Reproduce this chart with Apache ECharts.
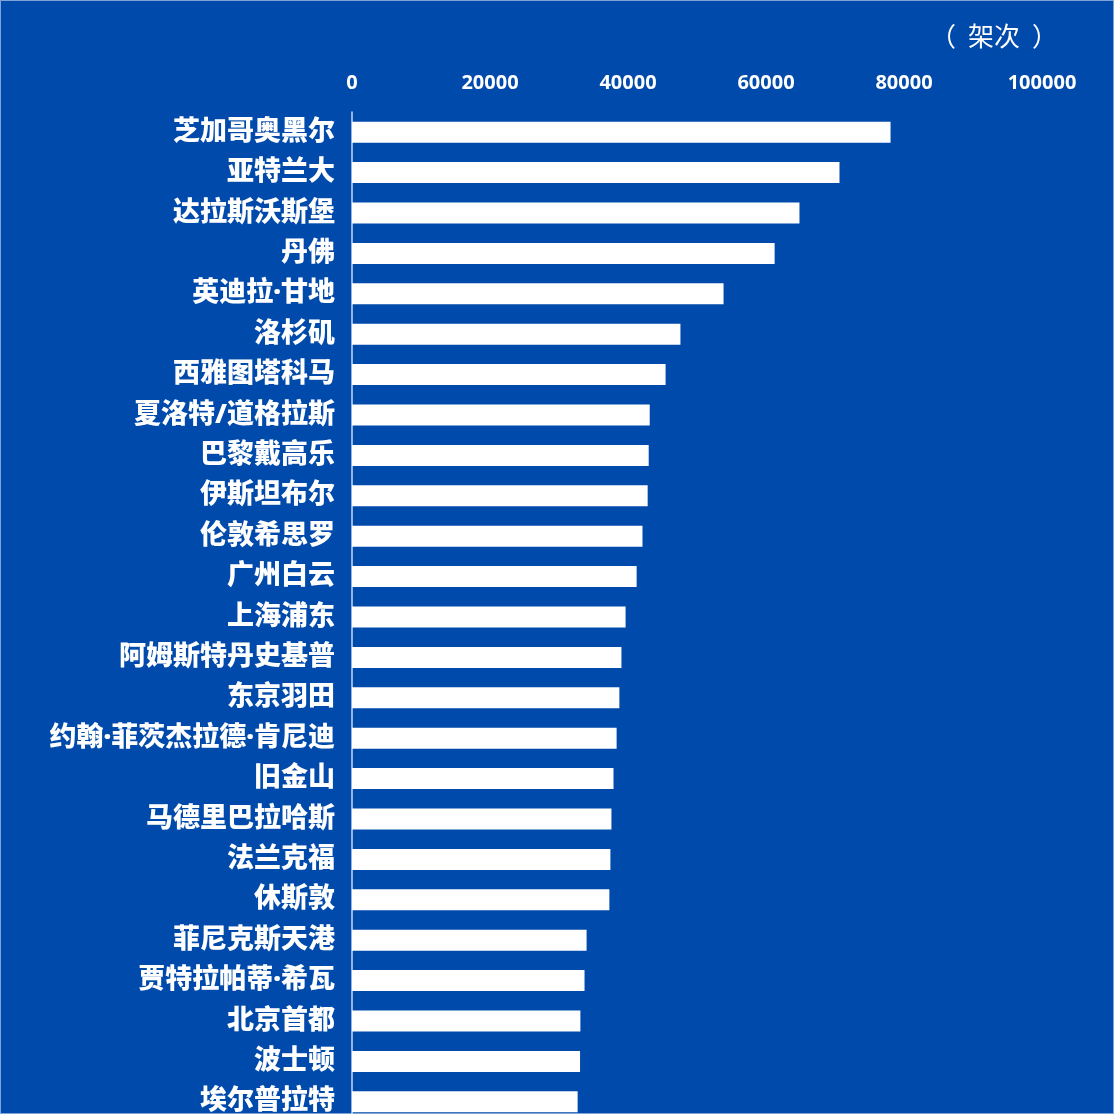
<!DOCTYPE html>
<html>
<head>
<meta charset="utf-8">
<script src="https://cdn.jsdelivr.net/npm/echarts@6/dist/echarts.min.js"></script>
<style>
  html, body { margin: 0; padding: 0; background: #004AAB; }
  #chart { width: 1114px; height: 1114px; }
</style>
</head>
<body>
<div id="chart"></div>
<script>
var categories = [
  '芝加哥奥黑尔', '亚特兰大', '达拉斯沃斯堡', '丹佛', '英迪拉·甘地',
  '洛杉矶', '西雅图塔科马', '夏洛特/道格拉斯', '巴黎戴高乐', '伊斯坦布尔',
  '伦敦希思罗', '广州白云', '上海浦东', '阿姆斯特丹史基普', '东京羽田',
  '约翰·菲茨杰拉德·肯尼迪', '旧金山', '马德里巴拉哈斯', '法兰克福', '休斯敦',
  '菲尼克斯天港', '贾特拉帕蒂·希瓦', '北京首都', '波士顿', '埃尔普拉特'
];
var flights = [
  78050, 70650, 64850, 61250, 53850,
  47600, 45450, 43150, 43000, 42850,
  42100, 41250, 39650, 39050, 38750,
  38350, 37900, 37600, 37450, 37300,
  34000, 33700, 33100, 33050, 32700
];
var xTicks = { min: 0, max: 100000, interval: 20000 };
var unitOpen = '（', unitWord = '架次', unitClose = '）';

var chart = echarts.init(document.getElementById('chart'));
var font = '"Noto Sans", "Noto Sans CJK SC", sans-serif';
var unitFont = '"Noto Sans CJK SC", serif';
chart.setOption({
  backgroundColor: '#004AAB',
  animation: false,
  grid: {
    left: 352, top: 112, width: 690, height: 1010,
    containLabel: false,
    outerBoundsMode: 'none'
  },
  xAxis: {
    type: 'value',
    position: 'top',
    min: xTicks.min,
    max: xTicks.max,
    interval: xTicks.interval,
    axisLine: { show: false },
    axisTick: { show: false },
    splitLine: { show: false },
    axisLabel: {
      color: '#ffffff',
      fontSize: 20,
      fontWeight: 'bold',
      fontFamily: font,
      margin: 19,
      formatter: function (v) { return String(v); }
    }
  },
  yAxis: {
    type: 'category',
    data: categories,
    inverse: true,
    axisLine: { show: true, lineStyle: { color: '#c9d8ef', width: 1.5 } },
    axisTick: { show: false },
    splitLine: { show: false },
    axisLabel: {
      color: '#ffffff',
      fontSize: 27,
      fontWeight: 900,
      fontFamily: font,
      margin: 17
    }
  },
  series: [{
    type: 'bar',
    data: flights,
    barWidth: 21,
    itemStyle: { color: '#ffffff' },
    silent: true
  }],
  graphic: [
    {
      type: 'text',
      x: 994,
      y: 36,
      style: {
        text: '{p|' + unitOpen + '}{w|' + unitWord + '}{p|' + unitClose + '}',
        fill: '#ffffff',
        fontSize: 26,
        fontFamily: unitFont,
        align: 'center',
        verticalAlign: 'middle',
        rich: {
          p: { fill: '#ffffff', fontSize: 26, fontFamily: unitFont },
          w: { fill: '#ffffff', fontSize: 26, fontFamily: unitFont, padding: [0, 12, 0, 12] }
        }
      }
    },
    {
      type: 'rect',
      shape: { x: 0, y: 0, width: 1114, height: 1114 },
      style: { fill: 'none', stroke: '#7fa2d8', lineWidth: 2 },
      silent: true
    }
  ]
});
</script>
</body>
</html>
